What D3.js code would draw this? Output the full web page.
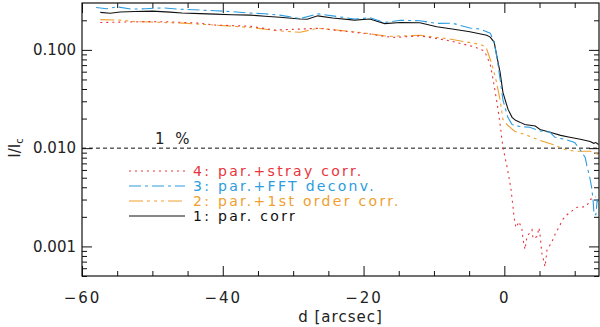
<!DOCTYPE html>
<html>
<head>
<meta charset="utf-8">
<script src="https://cdn.jsdelivr.net/npm/d3@7"></script>
<style>
  body { margin: 0; background: #fff; }
  text { font-family: "DejaVu Sans", sans-serif; fill: #222; }
</style>
</head>
<body>
<svg id="chart"></svg>
<script>
// data: [d (arcsec), I/Ic]
var parCorr = [[-57.4,0.241],[-56,0.236],[-54.6,0.243],[-52.5,0.246],[-50,0.248],[-47.5,0.242],[-45.8,0.237],[-43.2,0.234],[-41.1,0.231],[-38.7,0.228],[-36.1,0.226],[-34,0.22],[-31.9,0.215],[-29,0.206],[-28,0.205],[-26.5,0.222],[-24.4,0.211],[-21.3,0.201],[-19.1,0.206],[-17,0.185],[-14.8,0.19],[-12,0.189],[-9.6,0.172],[-7.4,0.163],[-4.9,0.153],[-2.5,0.141],[-2.0,0.135],[-1.45,0.12],[-1.2,0.097],[-0.9,0.075],[-0.6,0.059],[-0.2,0.037],[0.3,0.028],[0.53,0.0248],[1.1,0.0206],[1.6,0.0192],[2.2,0.0184],[2.9,0.0174],[4.4,0.0168],[5.07,0.0155],[6.5,0.0145],[8.0,0.0135],[9.3,0.0129],[10.8,0.0123],[12.2,0.0117],[12.7,0.0112],[13.0,0.0114],[13.4,0.0109]];

var firstOrder = [[-57.4,0.203],[-54.6,0.201],[-52.5,0.194],[-50,0.192],[-45.8,0.187],[-41.1,0.179],[-36.1,0.169],[-31.9,0.156],[-29,0.151],[-26.5,0.166],[-24.2,0.16],[-20.6,0.151],[-16.4,0.137],[-12,0.141],[-7.8,0.129],[-3.5,0.114],[-2.6,0.107],[-1.75,0.071],[-1.2,0.05],[-0.6,0.031],[-0.2,0.0196],[0.5,0.017],[1.5,0.0148],[2.9,0.0138],[5.1,0.012],[7.2,0.0107],[8.6,0.0097],[10.0,0.0093],[12.2,0.0093],[13.4,0.0086]];

var fftDeconv = [[-58,0.27],[-56.5,0.262],[-55,0.274],[-53,0.26],[-51,0.262],[-48.5,0.268],[-46,0.259],[-43,0.254],[-41,0.25],[-38.7,0.245],[-36.1,0.237],[-34,0.233],[-31.9,0.226],[-29,0.208],[-26.5,0.233],[-24.4,0.222],[-21.3,0.206],[-19.1,0.212],[-17,0.19],[-14.8,0.2],[-12,0.198],[-9.6,0.186],[-7.4,0.187],[-4.9,0.167],[-3.5,0.163],[-2.0,0.148],[-1.45,0.12],[-1.0,0.08],[-0.6,0.05],[-0.2,0.031],[0.5,0.0206],[1.1,0.0174],[2.2,0.0166],[3.6,0.0163],[5.0,0.015],[6.5,0.0145],[7.2,0.0129],[8.6,0.0123],[10.0,0.0114],[10.75,0.0097],[11.5,0.008],[11.75,0.0065],[12.1,0.0052],[12.4,0.004],[12.6,0.003],[12.75,0.0021],[13.0,0.0021],[13.2,0.003],[13.4,0.0026]];

var strayCorr = [[-57.4,0.19],[-50.4,0.194],[-47.6,0.193],[-43.2,0.187],[-41.1,0.179],[-36.1,0.174],[-32.6,0.159],[-26.2,0.166],[-24.1,0.159],[-19.1,0.145],[-17,0.137],[-15.6,0.134],[-12,0.139],[-7.8,0.124],[-4.2,0.107],[-2.8,0.097],[-2.0,0.071],[-1.6,0.05],[-1.0,0.028],[-0.6,0.0174],[-0.2,0.0102],[0.38,0.0065],[0.67,0.005],[0.95,0.0038],[1.24,0.0025],[1.38,0.00196],[1.66,0.00155],[2.09,0.00179],[2.51,0.00148],[2.66,0.00117],[2.94,0.00093],[3.22,0.00126],[3.93,0.00148],[4.08,0.0012],[4.64,0.00126],[4.93,0.00155],[5.07,0.00132],[5.36,0.00082],[5.5,0.00077],[5.78,0.00062],[6.07,0.00093],[6.35,0.00099],[6.78,0.00112],[7.2,0.00132],[7.91,0.00165],[8.34,0.0019],[8.91,0.0021],[9.62,0.0023],[10.33,0.0025],[11.04,0.0025],[11.75,0.0026],[12.17,0.003],[13.03,0.0032]];

var xMajor = [-60, -40, -20, 0];
var yMajor = [0.001, 0.01, 0.1];
var legendLabels = ["4: par.+stray corr.", "3: par.+FFT deconv.", "2: par.+1st order corr.", "1: par. corr"];

var width = 600, height = 327;
var mLeft = 82, mRight = 599, mTop = 3, mBottom = 276;

var svg = d3.select("#chart").attr("width", width).attr("height", height);

var x = d3.scaleLinear().domain([-60, 13.45]).range([mLeft, mRight]);
var y = d3.scaleLog().domain([0.0005, 0.3]).range([mBottom, mTop]);

var xMinor = d3.range(-60, 13.5, 5).filter(function(d){ return xMajor.indexOf(d) < 0; });
var yMinor = [];
[0.0001, 0.001, 0.01, 0.1].forEach(function(dec){
  for (var k = 2; k <= 9; k++) {
    var v = dec * k;
    if (v >= 0.0005 && v <= 0.3) yMinor.push(v);
  }
});

function styleAxis(g) {
  g.select(".domain").remove();
  g.selectAll("line").attr("stroke", "#111");
  g.selectAll("text").attr("font-size", "15px").attr("fill", "#222")
    .style("font-family", "DejaVu Sans, sans-serif");
}

// bottom
svg.append("g").attr("transform", "translate(0," + mBottom + ")")
  .call(d3.axisBottom(x).tickValues(xMajor).tickSize(-10).tickPadding(16))
  .call(styleAxis)
  .selectAll("text").attr("letter-spacing", "2px");
svg.append("g").attr("transform", "translate(0," + mBottom + ")")
  .call(d3.axisBottom(x).tickValues(xMinor).tickSize(-5).tickFormat(""))
  .call(styleAxis);
// top
svg.append("g").attr("transform", "translate(0," + mTop + ")")
  .call(d3.axisTop(x).tickValues(xMajor).tickSize(-10).tickFormat(""))
  .call(styleAxis);
svg.append("g").attr("transform", "translate(0," + mTop + ")")
  .call(d3.axisTop(x).tickValues(xMinor).tickSize(-5).tickFormat(""))
  .call(styleAxis);
// left
svg.append("g").attr("transform", "translate(" + mLeft + ",0)")
  .call(d3.axisLeft(y).tickValues(yMajor).tickSize(-10).tickPadding(6).tickFormat(d3.format(".3f")))
  .call(styleAxis);
svg.append("g").attr("transform", "translate(" + mLeft + ",0)")
  .call(d3.axisLeft(y).tickValues(yMinor).tickSize(-5).tickFormat(""))
  .call(styleAxis);
// right
svg.append("g").attr("transform", "translate(" + mRight + ",0)")
  .call(d3.axisRight(y).tickValues(yMajor).tickSize(-10).tickFormat(""))
  .call(styleAxis);
svg.append("g").attr("transform", "translate(" + mRight + ",0)")
  .call(d3.axisRight(y).tickValues(yMinor).tickSize(-5).tickFormat(""))
  .call(styleAxis);

svg.append("rect")
  .attr("x", mLeft).attr("y", mTop)
  .attr("width", mRight - mLeft).attr("height", mBottom - mTop)
  .attr("fill", "none").attr("stroke", "#111").attr("stroke-width", 1.2);

// 1 % line
svg.append("line")
  .attr("x1", mLeft).attr("x2", mRight)
  .attr("y1", y(0.01)).attr("y2", y(0.01))
  .attr("stroke", "#111").attr("stroke-dasharray", "4,3");
svg.append("text").attr("x", 155).attr("y", y(0.01) - 4)
  .attr("font-size", "15px").attr("letter-spacing", "3px").text("1 %");

var series = [
  {data: strayCorr, color: "#e8343c", dash: "2,4"},
  {data: fftDeconv, color: "#2c9ce0", dash: "12,4,3,4"},
  {data: firstOrder, color: "#f0a030", dash: "14,4,3,4,3,4,3,4"},
  {data: parCorr, color: "#111111", dash: null}
];

var line = d3.line()
  .x(function(d){ return x(d[0]); })
  .y(function(d){ return y(d[1]); });

svg.append("clipPath").attr("id", "clip")
  .append("rect").attr("x", mLeft).attr("y", mTop)
  .attr("width", mRight - mLeft).attr("height", mBottom - mTop);

svg.append("g").attr("clip-path", "url(#clip)")
  .selectAll("path")
  .data(series.slice().reverse())
  .enter()
  .append("path")
  .attr("d", function(d){ return line(d.data); })
  .attr("fill", "none")
  .attr("stroke", function(d){ return d.color; })
  .attr("stroke-width", 1.1)
  .attr("stroke-dasharray", function(d){ return d.dash; });

// legend
var leg = svg.append("g");
leg.selectAll("line")
  .data(series)
  .enter()
  .append("line")
  .attr("x1", 129).attr("x2", 185)
  .attr("y1", function(d, i){ return 171 + i * 15; })
  .attr("y2", function(d, i){ return 171 + i * 15; })
  .attr("stroke", function(d){ return d.color; })
  .attr("stroke-width", 1.1)
  .attr("stroke-dasharray", function(d){ return d.dash; });
leg.selectAll("text")
  .data(series)
  .enter()
  .append("text")
  .attr("x", 193)
  .attr("y", function(d, i){ return 176 + i * 15; })
  .attr("font-size", "14px")
  .attr("letter-spacing", "2.3px")
  .style("fill", function(d){ return d.color; })
  .text(function(d, i){ return legendLabels[i]; });

// axis titles
svg.append("text")
  .attr("x", (mLeft + mRight) / 2).attr("y", 322)
  .attr("text-anchor", "middle").attr("font-size", "15px")
  .attr("letter-spacing", "1px")
  .text("d [arcsec]");

var yt = svg.append("text")
  .attr("transform", "translate(20,148) rotate(-90)")
  .attr("text-anchor", "middle").attr("font-size", "15px");
yt.append("tspan").text("I/I");
yt.append("tspan").attr("font-size", "10px").attr("dy", 3).text("c");
</script>
</body>
</html>
